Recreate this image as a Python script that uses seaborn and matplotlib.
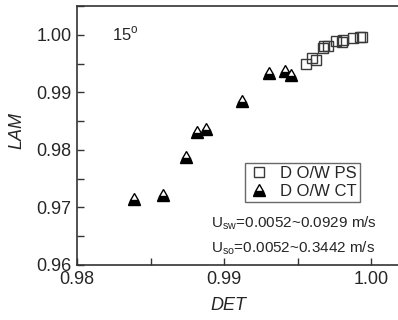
import matplotlib
matplotlib.use("Agg")
import matplotlib.pyplot as plt
from matplotlib.ticker import MultipleLocator
from matplotlib.lines import Line2D
import seaborn as sns
import pandas as pd

# DET / LAM recurrence measures, 15 degree inclination
ps_det = [0.99558, 0.99599, 0.99626, 0.99673, 0.99680, 0.99707,
          0.99762, 0.99803, 0.99810, 0.99878, 0.99925, 0.99939]
ps_lam = [0.99496, 0.99600, 0.99565, 0.99774, 0.99809, 0.99809,
          0.99896, 0.99878, 0.99913, 0.99948, 0.99965, 0.99965]

ct_det = [0.98388, 0.98585, 0.98741, 0.98816, 0.98878,
          0.99122, 0.99306, 0.99415, 0.99456]
ct_lam = [0.97148, 0.97217, 0.97878, 0.98313, 0.98365,
          0.98852, 0.99339, 0.99374, 0.99304]

labels = ["D O/W PS", "D O/W CT"]
x_ticks = [0.98, 0.99, 1.00]
y_ticks = [0.96, 0.97, 0.98, 0.99, 1.00]

sns.set_style("ticks")
plt.rcParams["font.family"] = ["Liberation Sans", "DejaVu Sans"]
plt.rcParams["mathtext.fontset"] = "custom"
plt.rcParams["mathtext.rm"] = "Liberation Sans"

fig = plt.figure(figsize=(3.98, 3.2), dpi=100)
ax = fig.add_axes([77 / 398, 55 / 320, 1 - 77 / 398, (265 - 6) / 320])

ps = pd.DataFrame({"DET": ps_det, "LAM": ps_lam})
ct = pd.DataFrame({"DET": ct_det, "LAM": ct_lam})

sns.lineplot(data=ps, x="DET", y="LAM", ax=ax, estimator=None, sort=False,
             linestyle="", marker="s", markersize=7.5, markerfacecolor="none",
             markeredgecolor="#3a3a3a", markeredgewidth=1.0)
sns.lineplot(data=ct, x="DET", y="LAM", ax=ax, estimator=None, sort=False,
             linestyle="", marker="^", markersize=8.5, fillstyle="bottom",
             markerfacecolor="black", markerfacecoloralt="white",
             markeredgecolor="black", markeredgewidth=1.0)

ax.set_xlim(0.98, 0.98 + 321 / 14700)
ax.set_ylim(0.96, 1.005)
ax.set_xticks(x_ticks)
ax.set_yticks(y_ticks)
ax.set_xticklabels([f"{v:.2f}" for v in x_ticks])
ax.set_yticklabels([f"{v:.2f}" for v in y_ticks])
ax.xaxis.set_minor_locator(MultipleLocator(0.005))
ax.yaxis.set_minor_locator(MultipleLocator(0.005))
ax.tick_params(which="both", direction="in", length=5, width=1.0,
               color="#333333", labelsize=13, pad=4)
ax.tick_params(which="both", top=False, right=False)

for side in ["left", "bottom", "top"]:
    ax.spines[side].set_color("#333333")
    ax.spines[side].set_linewidth(1.2)
ax.spines["right"].set_visible(False)

ax.set_xlabel("DET", fontsize=13, style="italic")
ax.set_ylabel("LAM", fontsize=13, style="italic")
ax.xaxis.set_label_coords(0.472, -0.124)
ax.yaxis.set_label_coords(-0.16, 0.52)

ax.text(0.109, 0.869, "15$^{\\mathregular{o}}$", transform=ax.transAxes,
        fontsize=12, va="baseline", ha="left")
ax.text(0.417, 0.147, "U$_{\\mathregular{sw}}$=0.0052~0.0929 m/s",
        transform=ax.transAxes, fontsize=11, va="baseline", ha="left")
ax.text(0.417, 0.050, "U$_{\\mathregular{so}}$=0.0052~0.3442 m/s",
        transform=ax.transAxes, fontsize=11, va="baseline", ha="left")

handles = [
    Line2D([], [], linestyle="", marker="s", markersize=7,
           markerfacecolor="none", markeredgecolor="#3a3a3a"),
    Line2D([], [], linestyle="", marker="^", markersize=8.5, fillstyle="bottom",
           markerfacecolor="black", markerfacecoloralt="white",
           markeredgecolor="black"),
]
leg = ax.legend(handles, labels, loc="upper left",
                bbox_to_anchor=(0.523, 0.394), borderaxespad=0,
                fontsize=12, frameon=True, fancybox=False,
                handlelength=1.3, handletextpad=0.6, labelspacing=0.15,
                borderpad=0.2)
leg.get_frame().set_edgecolor("#444444")
leg.get_frame().set_linewidth(1.0)

fig.savefig("out.png", dpi=100)
